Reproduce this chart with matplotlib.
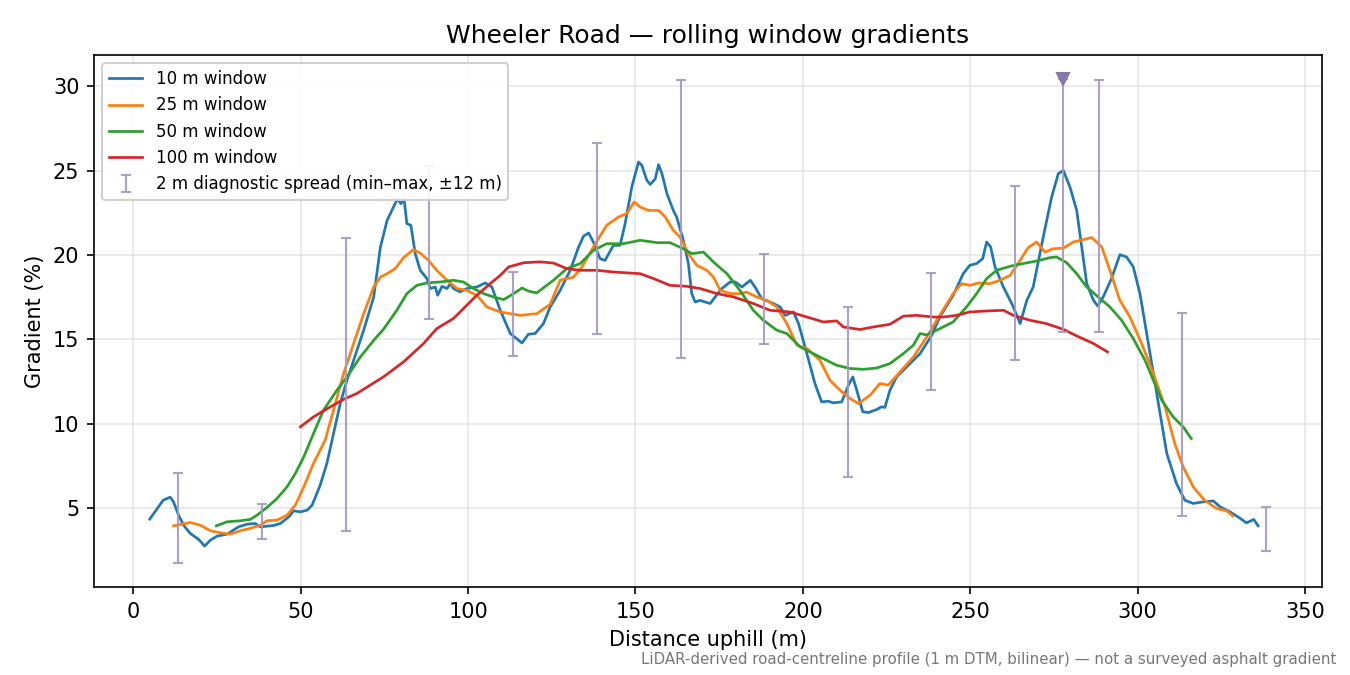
import matplotlib
matplotlib.use("Agg")
import matplotlib.pyplot as plt

# ---- data ----
x10 = [4.9, 8.9, 11.0, 12.0, 13.5, 15.0, 17.0, 19.5, 21.3, 23.0, 25.0, 28.0, 31.4, 34.0, 36.4, 37.9,
       41.9, 43.9, 46.4, 47.9, 49.9, 51.9, 53.4, 55.8, 57.8, 59.8, 61.8, 63.8, 65.8, 68.8, 71.8, 73.8,
       75.8, 77.7, 78.9, 79.9, 80.9, 81.7, 82.9, 84.2, 85.7, 87.7, 88.7, 90.2, 90.9, 92.2, 93.7, 94.7,
       95.6, 97.6, 99.6, 102.6, 105.1, 107.1, 109.6, 112.6, 116.1, 118.0, 120.0, 122.5, 124.5, 127.5,
       130.5, 133.0, 134.5, 136.0, 137.4, 139.4, 140.9, 143.4, 145.4, 146.9, 148.9, 150.9, 151.9, 153.4,
       154.4, 155.9, 156.9, 157.9, 159.4, 161.3, 162.3, 164.3, 165.8, 166.8, 167.8, 169.3, 170.8, 172.3,
       173.8, 175.8, 178.3, 179.8, 181.8, 184.3, 185.7, 187.7, 191.2, 193.2, 194.7, 197.2, 198.7, 201.2,
       203.6, 205.6, 207.6, 209.1, 211.6, 213.6, 214.9, 216.1, 217.9, 219.6, 222.1, 223.5, 224.5, 226.0,
       228.0, 231.0, 235.0, 238.5, 240.9, 244.9, 247.9, 249.9, 251.9, 253.7, 254.9, 256.1, 257.4, 259.9,
       262.4, 264.9, 266.9, 268.8, 271.8, 274.3, 276.3, 277.8, 279.8, 281.8, 283.3, 284.8, 286.8, 288.1,
       289.7, 292.2, 294.7, 296.7, 298.7, 300.7, 303.2, 305.7, 308.7, 311.6, 314.1, 316.6, 319.6, 322.6,
       324.6, 327.6, 330.0, 332.5, 334.7, 336.0]
g10 = [4.35, 5.47, 5.65, 5.37, 4.58, 3.99, 3.50, 3.15, 2.75, 3.10, 3.34, 3.46, 3.89, 4.05, 4.09, 3.89,
       3.97, 4.09, 4.48, 4.84, 4.78, 4.88, 5.18, 6.36, 7.65, 9.42, 11.2, 12.58, 13.77, 15.55, 17.52, 20.48,
       22.06, 22.85, 23.35, 23.05, 23.29, 21.87, 21.77, 20.09, 19.10, 18.61, 18.02, 18.11, 17.62, 18.15, 18.02, 18.31,
       18.02, 17.82, 18.02, 18.11, 18.35, 18.11, 16.73, 15.35, 14.79, 15.31, 15.35, 15.94, 16.92, 17.91,
       19.10, 20.48, 21.13, 21.31, 20.78, 19.79, 19.69, 20.58, 20.58, 21.87, 24.04, 25.52, 25.32, 24.43,
       24.19, 24.53, 25.36, 24.83, 23.64, 22.65, 22.26, 20.88, 19.50, 17.72, 17.22, 17.32, 17.22, 17.13,
       17.52, 18.02, 18.41, 18.41, 18.11, 18.51, 18.11, 17.42, 17.13, 16.93, 16.43, 16.63, 15.94, 14.16,
       12.39, 11.30, 11.34, 11.24, 11.30, 12.29, 12.78, 11.99, 10.71, 10.67, 10.85, 11.01, 10.97, 11.99,
       12.78, 13.37, 14.16, 15.25, 16.33, 17.62, 18.90, 19.40, 19.50, 19.79, 20.78, 20.48, 19.30, 18.11,
       17.13, 15.94, 17.32, 18.11, 21.07, 23.44, 24.83, 25.02, 24.03, 22.65, 20.48, 18.31, 17.32, 16.98,
       17.52, 18.61, 20.03, 19.89, 19.30, 17.72, 14.76, 11.80, 8.25, 6.46, 5.47, 5.28, 5.37, 5.43,
       5.08, 4.78, 4.48, 4.13, 4.33, 3.95]

x25 = [12.0, 17.0, 20.0, 23.0, 26.0, 29.0, 31.9, 34.9, 37.9, 39.9, 42.9, 45.9, 48.4, 50.9, 53.8, 57.3,
       59.8, 62.8, 65.8, 68.8, 71.8, 73.8, 75.8, 78.2, 80.7, 83.7, 85.7, 88.2, 90.6, 93.7, 96.7, 99.6,
       102.6, 105.6, 109.6, 115.6, 120.5, 124.5, 127.5, 131.5, 134.0, 138.0, 141.4, 144.9, 147.4, 149.6,
       151.4, 153.9, 156.9, 158.9, 161.3, 163.3, 165.8, 168.3, 171.3, 173.3, 175.3, 178.3, 181.2, 183.2,
       186.2, 189.2, 192.2, 195.2, 198.2, 201.2, 205.1, 208.1, 211.1, 214.1, 216.6, 220.1, 223.0, 225.5,
       229.0, 233.0, 237.0, 240.9, 244.9, 247.4, 249.9, 252.4, 255.9, 258.9, 261.9, 264.9, 267.3, 269.8,
       272.3, 274.8, 277.8, 280.8, 283.8, 286.3, 289.3, 291.7, 294.7, 297.7, 301.2, 304.7, 308.2, 311.1,
       313.6, 316.6, 320.0, 323.6, 326.6, 328.4]
g25 = [3.95, 4.15, 3.99, 3.66, 3.54, 3.46, 3.66, 3.80, 3.99, 4.25, 4.29, 4.58, 5.18, 6.26, 7.65, 9.03,
       10.81, 12.98, 14.76, 16.53, 18.11, 18.70, 18.90, 19.20, 19.85, 20.33, 20.12, 19.69, 19.10, 18.51, 18.02, 17.91,
       17.62, 16.93, 16.63, 16.43, 16.53, 17.08, 18.51, 18.70, 19.30, 20.68, 21.77, 22.26, 22.46, 23.15,
       22.85, 22.65, 22.65, 22.26, 21.47, 21.07, 20.09, 19.40, 19.10, 18.70, 17.91, 17.72, 17.72, 17.81,
       17.52, 17.32, 16.93, 15.94, 14.66, 14.46, 13.77, 12.58, 11.99, 11.50, 11.20, 11.70, 12.39, 12.29,
       13.07, 13.96, 15.15, 16.43, 17.72, 18.31, 18.21, 18.35, 18.31, 18.51, 18.80, 19.69, 20.44, 20.78,
       20.18, 20.38, 20.41, 20.78, 20.92, 21.04, 20.48, 19.10, 17.32, 16.33, 14.76, 12.98, 11.0, 8.83,
       7.45, 6.26, 5.47, 4.98, 4.84, 4.54]

x50 = [24.8, 28.0, 31.9, 34.9, 36.9, 39.9, 42.9, 45.9, 48.4, 50.9, 53.8, 56.8, 60.8, 63.8, 67.8, 71.8,
       74.7, 78.7, 81.7, 84.7, 87.7, 91.7, 95.6, 98.6, 101.6, 104.6, 107.6, 110.6, 113.6, 116.1, 118.0,
       120.5, 123.5, 125.5, 129.5, 133.5, 137.4, 141.4, 146.4, 151.4, 156.4, 160.3, 164.3, 166.8, 170.3,
       173.3, 177.3, 181.2, 185.2, 188.2, 192.2, 195.2, 199.2, 205.1, 210.1, 214.1, 218.1, 222.1, 226.0,
       230.0, 233.0, 235.0, 237.0, 240.9, 244.9, 248.9, 251.9, 254.9, 257.9, 261.9, 265.8, 269.8, 273.8,
       275.8, 278.8, 281.8, 284.8, 288.2, 291.7, 295.2, 298.7, 302.2, 304.7, 307.2, 310.6, 313.6, 316.0]
g50 = [3.95, 4.19, 4.25, 4.33, 4.58, 5.04, 5.57, 6.26, 7.06, 8.04, 9.42, 10.81, 11.99, 12.78, 13.96, 14.95,
       15.60, 16.73, 17.72, 18.21, 18.35, 18.41, 18.51, 18.41, 18.02, 17.72, 17.52, 17.36, 17.72, 18.05, 17.87,
       17.76, 18.21, 18.51, 19.20, 19.50, 20.28, 20.68, 20.68, 20.88, 20.74, 20.74, 20.38, 20.09, 20.18,
       19.59, 18.90, 17.91, 16.73, 16.14, 15.55, 15.35, 14.56, 13.96, 13.47, 13.28, 13.23, 13.31, 13.57,
       14.16, 14.66, 15.35, 15.27, 15.64, 16.04, 16.93, 17.72, 18.61, 19.10, 19.34, 19.50, 19.65, 19.85,
       19.89, 19.55, 18.90, 18.11, 17.52, 16.93, 16.14, 15.05, 13.77, 12.58, 11.40, 10.41, 9.82, 9.13]

x100 = [49.9, 53.8, 58.8, 62.8, 66.8, 70.8, 74.7, 80.7, 86.7, 90.6, 95.6, 98.6, 102.6, 106.6, 109.6,
        112.1, 116.6, 121.5, 125.5, 129.5, 133.5, 138.5, 143.4, 151.4, 155.4, 160.3, 165.3, 169.3, 174.3,
        179.3, 185.2, 190.2, 196.2, 201.2, 206.1, 210.1, 212.1, 217.1, 221.0, 226.0, 230.0, 234.0, 239.0,
        241.9, 245.9, 249.9, 254.9, 259.9, 262.9, 267.8, 272.8, 277.8, 281.8, 286.8, 291.0]
g100 = [9.82, 10.41, 11.0, 11.45, 11.80, 12.30, 12.78, 13.67, 14.76, 15.64, 16.24, 16.83, 17.62, 18.31, 18.80,
        19.30, 19.55, 19.60, 19.53, 19.20, 19.10, 19.10, 19.00, 18.90, 18.61, 18.21, 18.15, 18.02, 17.72,
        17.52, 17.13, 16.73, 16.63, 16.33, 16.04, 16.10, 15.74, 15.59, 15.74, 15.90, 16.38, 16.43, 16.33,
        16.33, 16.43, 16.63, 16.69, 16.73, 16.43, 16.14, 15.94, 15.60, 15.21, 14.76, 14.26]

spread_x = [13.4, 38.5, 63.6, 88.4, 113.5, 138.5, 163.5, 188.4, 213.5, 238.3, 263.4, 277.8, 288.4, 313.2, 338.3]
spread_min = [1.76, 3.18, 3.66, 16.21, 14.02, 15.33, 13.93, 14.73, 6.86, 12.01, 13.79, 15.45, 15.45, 4.54, 2.43]
spread_max = [7.09, 5.25, 21.01, 25.28, 18.98, 26.64, 30.41, 20.07, 16.91, 18.94, 24.08, 30.43, 30.41, 16.55, 5.08]
peak_x = [277.8]
peak_y = [30.43]

series = [
    ("10 m window", x10, g10, "#1f77b4"),
    ("25 m window", x25, g25, "#ff7f0e"),
    ("50 m window", x50, g50, "#2ca02c"),
    ("100 m window", x100, g100, "#d62728"),
]

fig = plt.figure(figsize=(9, 4.5), dpi=150)
ax = fig.add_axes([0.0696, 0.1304, 0.9094, 0.7881])

for label, xs, ys, c in series:
    ax.plot(xs, ys, color=c, lw=1.3, label=label)

mid = [(a + b) / 2 for a, b in zip(spread_min, spread_max)]
lo = [m - a for m, a in zip(mid, spread_min)]
hi = [b - m for m, b in zip(mid, spread_max)]
ax.errorbar(spread_x, mid, yerr=[lo, hi], fmt="none", ecolor="#a497c4",
            elinewidth=1.0, capsize=2.5, capthick=1.0, alpha=0.9,
            label="2 m diagnostic spread (min–max, ±12 m)")
ax.plot(peak_x, peak_y, marker="v", linestyle="none", color="#8677ad", markersize=6)

ax.set_title("Wheeler Road — rolling window gradients", fontsize=12)
ax.set_xlabel("Distance uphill (m)", fontsize=10)
ax.set_ylabel("Gradient (%)", fontsize=10)
ax.tick_params(labelsize=10)
ax.set_xticks([0, 50, 100, 150, 200, 250, 300, 350])
ax.set_yticks([5, 10, 15, 20, 25, 30])
ax.grid(True, color="#dddddd", alpha=0.7, lw=0.8)
ax.legend(loc="upper left", fontsize=8, framealpha=0.9)

fig.text(0.99, 0.012, "LiDAR-derived road-centreline profile (1 m DTM, bilinear) — not a surveyed asphalt gradient",
         ha="right", va="bottom", fontsize=7.2, color="#777777")

fig.savefig("out.png", dpi=150)
